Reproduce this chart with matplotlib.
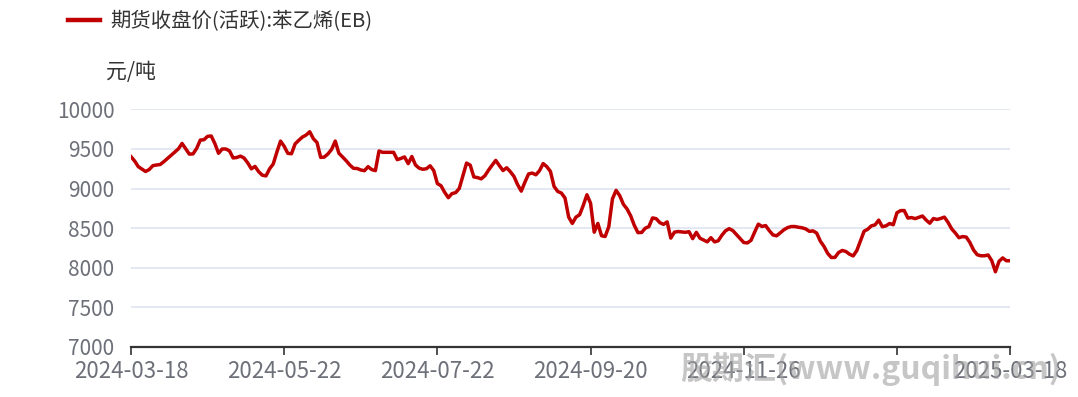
import numpy as np
import pandas as pd
import matplotlib
matplotlib.use("Agg")
import matplotlib.pyplot as plt

plt.rcParams['font.family'] = ['Noto Sans CJK SC', 'DejaVu Sans']

# trading calendar (weekdays minus exchange holidays)
holidays = ["2024-04-04", "2024-04-05", "2024-05-01", "2024-05-02", "2024-05-03",
            "2024-06-10", "2024-09-16", "2024-09-17", "2024-10-01", "2024-10-02",
            "2024-10-03", "2024-10-04", "2024-10-07", "2025-01-01", "2025-01-28",
            "2025-01-29", "2025-01-30", "2025-01-31", "2025-02-03", "2025-02-04"]
dates = pd.bdate_range("2024-03-18", "2025-03-18")
dates = dates[~dates.isin(pd.to_datetime(holidays))]

# close price, active EB contract (yuan/ton)
close = [
    9403, 9348, 9277, 9246, 9216, 9241, 9290, 9298, 9304, 9340,
    9380, 9421, 9461, 9502, 9570, 9502, 9435, 9438, 9507, 9613,
    9617, 9660, 9664, 9568, 9446, 9500, 9500, 9477, 9387, 9393,
    9410, 9386, 9325, 9250, 9280, 9214, 9169, 9160, 9250, 9311,
    9462, 9600, 9534, 9445, 9440, 9565, 9610, 9651, 9676, 9718,
    9630, 9582, 9394, 9398, 9438, 9495, 9600, 9446, 9400, 9352,
    9298, 9256, 9254, 9235, 9226, 9277, 9240, 9227, 9475, 9458,
    9458, 9458, 9458, 9365, 9381, 9400, 9315, 9405, 9298, 9258,
    9244, 9251, 9288, 9228, 9064, 9036, 8953, 8885, 8937, 8949,
    9001, 9161, 9322, 9296, 9147, 9139, 9123, 9161, 9231, 9295,
    9356, 9290, 9228, 9263, 9214, 9154, 9050, 8968, 9081, 9185,
    9196, 9174, 9226, 9316, 9277, 9217, 9027, 8964, 8944, 8880,
    8640, 8560, 8640, 8670, 8788, 8922, 8815, 8450, 8560, 8405,
    8395, 8520, 8870, 8978, 8910, 8802, 8743, 8656, 8535, 8444,
    8446, 8500, 8521, 8630, 8620, 8570, 8548, 8580, 8375, 8450,
    8458, 8453, 8448, 8456, 8368, 8448, 8373, 8350, 8328, 8380,
    8327, 8341, 8411, 8467, 8494, 8470, 8420, 8368, 8319, 8314,
    8347, 8452, 8551, 8522, 8533, 8469, 8415, 8404, 8441, 8480,
    8507, 8521, 8521, 8512, 8505, 8491, 8460, 8466, 8438, 8336,
    8270, 8183, 8130, 8131, 8193, 8219, 8206, 8172, 8150, 8218,
    8340, 8462, 8487, 8530, 8542, 8602, 8518, 8530, 8559, 8544,
    8695, 8722, 8723, 8628, 8634, 8621, 8638, 8654, 8603, 8563,
    8622, 8610, 8623, 8640, 8575, 8492, 8440, 8380, 8394, 8388,
    8320, 8225, 8165, 8152, 8152, 8162, 8090, 7950, 8082, 8125,
    8089, 8089,
]
series_name = "期货收盘价(活跃):苯乙烯(EB)"
unit = "元/吨"
yticks = [7000, 7500, 8000, 8500, 9000, 9500, 10000]
label_every = 42

n = len(close)
x = np.arange(n)
tick_idx = list(range(0, n, label_every)) + [n - 1]
tick_text = [dates[i].strftime("%Y-%m-%d") for i in tick_idx]
tick_text[-2] = ""  # hidden by overlap in the original

fig = plt.figure(figsize=(10.78, 3.97), dpi=100)
ax = fig.add_axes([131 / 1078, 1 - 347 / 397, (1010 - 131) / 1078, (347 - 109.4) / 397])

ax.plot(x, close, color="#C00000", lw=2.5, label=series_name, solid_joinstyle="round", zorder=3)

ax.set_xlim(0, n - 1)
ax.set_ylim(7000, 10000)
ax.set_yticks(yticks)
ax.set_xticks(tick_idx)
ax.set_xticklabels(tick_text)
ax.grid(axis="y", color="#E0E6F1", lw=1.3)
ax.set_axisbelow(True)
for s in ["top", "right", "left"]:
    ax.spines[s].set_visible(False)
ax.spines["bottom"].set_color("#333333")
ax.spines["bottom"].set_linewidth(1.6)
ax.tick_params(axis="y", length=0, pad=12, labelsize=15, labelcolor="#6E7079")
ax.tick_params(axis="x", length=6, width=1.2, color="#333333", pad=3,
               labelsize=16, labelcolor="#6E7079")

leg = fig.legend(loc="center left", bbox_to_anchor=(68 / 1078, 1 - 22 / 397), frameon=False,
                 fontsize=14.7, handlelength=1.55, handletextpad=0.5,
                 borderpad=0, borderaxespad=0, labelcolor="#333333")
for h in leg.get_lines():
    h.set_linewidth(3.2)
fig.text(106 / 1078, 1 - 72 / 397, unit, fontsize=15, color="#333333", va="center")

fig.text(680 / 1078, 1 - 369 / 397, "股期汇(www.guqihui.cn)", fontsize=23, color="#A0A0A0",
         alpha=0.6, fontweight="bold", style="italic", va="center", zorder=0)

fig.savefig("out.png", dpi=100)
